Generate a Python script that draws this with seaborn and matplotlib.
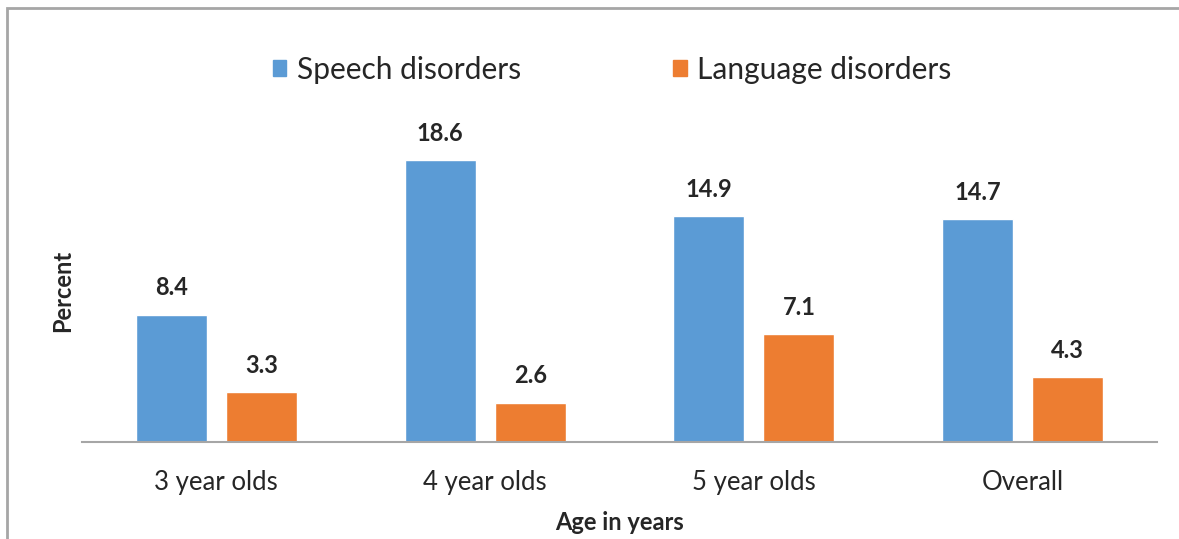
import matplotlib
matplotlib.use("Agg")
import matplotlib.pyplot as plt
import seaborn as sns
import pandas as pd
from matplotlib.patches import Rectangle

categories = ["3 year olds", "4 year olds", "5 year olds", "Overall"]
speech = [8.4, 18.6, 14.9, 14.7]
language = [3.3, 2.6, 7.1, 4.3]
series = ["Speech disorders", "Language disorders"]
colors = ["#5B9BD5", "#ED7D31"]

df = pd.DataFrame({
    "age": categories * 2,
    "value": speech + language,
    "group": [series[0]] * 4 + [series[1]] * 4,
})

sns.set_style("white")
plt.rcParams["font.family"] = ["Lato", "DejaVu Sans"]

fig = plt.figure(figsize=(11.79, 5.39), dpi=100)
ax = fig.add_axes([82 / 1179, 1 - 442 / 539, 1075 / 1179, 303 / 539])

sns.barplot(data=df, x="age", y="value", hue="group", palette=colors,
            width=0.67, gap=0.21, ax=ax, legend=False, saturation=1)

for cont in ax.containers:
    ax.bar_label(cont, fmt="%.1f", padding=11, fontsize=17, fontweight="bold")

ax.set_ylim(0, 20)
ax.set_xlim(-0.5, 3.5)
ax.set_yticks([])
ax.tick_params(axis="x", length=0, labelsize=18.5, pad=20)
for s in ["top", "right", "left"]:
    ax.spines[s].set_visible(False)
ax.spines["bottom"].set_color("#A6A6A6")
ax.spines["bottom"].set_linewidth(1.5)
ax.set_xlabel("Age in years", fontsize=17, fontweight="bold", labelpad=12)
ax.set_ylabel("Percent", fontsize=17, fontweight="bold", labelpad=6)

handles = [Rectangle((0, 0), 1, 1, color=c) for c in colors]
fig.legend(handles, series, loc="center", bbox_to_anchor=(612 / 1179, 1 - 70 / 539),
           ncol=2, frameon=False, fontsize=21.5, handlelength=0.45, handleheight=0.45,
           handletextpad=0.35, columnspacing=5.1)

fig.patches.append(Rectangle((7 / 1179, -0.1), 1.5, 1 - 8 / 539 + 0.1,
                             transform=fig.transFigure, fill=False,
                             edgecolor="#A6A6A6", linewidth=2))

fig.savefig("out.png", dpi=100)
